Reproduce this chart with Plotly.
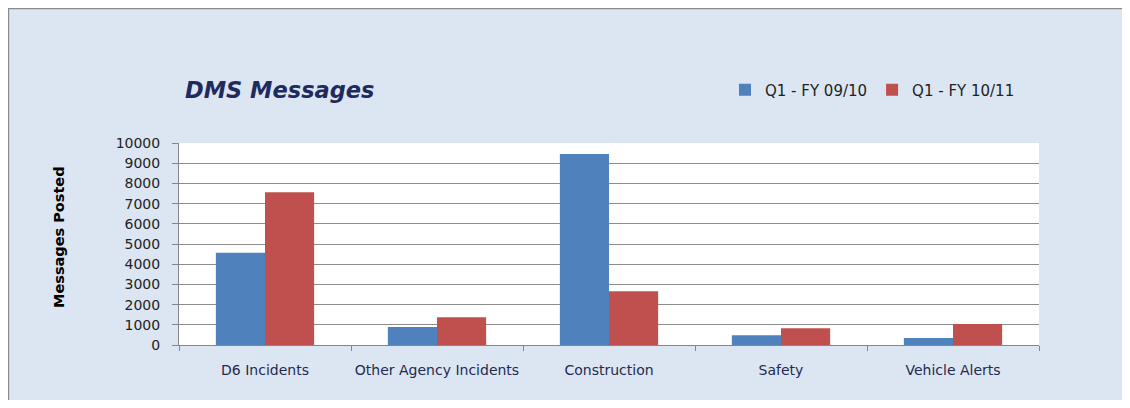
import plotly.graph_objects as go

categories = ["D6 Incidents", "Other Agency Incidents", "Construction", "Safety", "Vehicle Alerts"]
series_names = ["Q1 - FY 09/10", "Q1 - FY 10/11"]
q1_fy0910 = [4570, 890, 9455, 480, 345]
q1_fy1011 = [7560, 1370, 2660, 825, 1040]
y_ticks = [0, 1000, 2000, 3000, 4000, 5000, 6000, 7000, 8000, 9000, 10000]

# the page body adds an 8px offset; work in screen pixels and convert
OFF = 8
W, H = 1130 - 2 * OFF, 408 - 2 * OFF
L, R, T, B = 179 - OFF, 1039 - OFF, 143 - OFF, 345 - OFF


def px(x):
    return (x - OFF - L) / (R - L)


def py(y):
    return (B - (y - OFF)) / (B - T)


fig = go.Figure()
fig.add_trace(go.Bar(x=categories, y=q1_fy0910, name=series_names[0],
                     marker=dict(color="#4F81BD", line=dict(width=0))))
fig.add_trace(go.Bar(x=categories, y=q1_fy1011, name=series_names[1],
                     marker=dict(color="#C0504D", line=dict(width=0))))

fig.update_layout(
    width=W, height=H,
    margin=dict(l=L, r=W - R, t=T, b=H - B, pad=0, autoexpand=False),
    paper_bgcolor="#DCE6F2",
    plot_bgcolor="#FFFFFF",
    barmode="group",
    bargap=0.4286,
    bargroupgap=0,
    showlegend=True,
    legend=dict(orientation="h", x=px(725), xanchor="left", y=py(90), yanchor="middle",
                font=dict(family="DejaVu Sans", size=15, color="#222222"),
                bgcolor="rgba(0,0,0,0)", borderwidth=0),
    xaxis=dict(showgrid=False, showline=True, linecolor="#868686", linewidth=1,
               ticks="outside", ticklen=5, tickcolor="#868686", tickson="boundaries",
               ticklabelstandoff=12, tickangle=0, automargin=False,
               tickfont=dict(family="DejaVu Sans", size=14, color="#1F2A50"),
               fixedrange=True),
    yaxis=dict(range=[0, 10000], tickvals=y_ticks, ticktext=[str(v) for v in y_ticks],
               showgrid=True, gridcolor="#8C8C8C", gridwidth=1.2,
               showline=True, linecolor="#868686", linewidth=1,
               ticks="outside", ticklen=6, tickcolor="#868686",
               ticklabelstandoff=9, automargin=False,
               tickfont=dict(family="DejaVu Sans", size=14, color="#222222"),
               zeroline=False, fixedrange=True),
)

fig.add_annotation(text="<b><i>DMS Messages</i></b>", xref="paper", yref="paper",
                   x=px(183), y=py(90), xanchor="left", yanchor="middle", showarrow=False,
                   font=dict(family="DejaVu Sans", size=22.5, color="#1F2A5E"))
fig.add_annotation(text="<b>Messages Posted</b>", xref="paper", yref="paper",
                   x=px(59), y=py(237), xanchor="center", yanchor="middle", showarrow=False,
                   textangle=-90, font=dict(family="DejaVu Sans", size=14.5, color="#000000"))

# outer chart frame (top and left edges)
fig.add_shape(type="line", xref="paper", yref="paper", x0=px(8), x1=px(1140),
              y0=py(8.6), y1=py(8.6), line=dict(color="#8A8A8A", width=1.2), layer="above")
fig.add_shape(type="line", xref="paper", yref="paper", x0=px(8.6), x1=px(8.6),
              y0=py(8.6), y1=py(420), line=dict(color="#8A8A8A", width=1.2), layer="above")

fig.write_html("out.html")
